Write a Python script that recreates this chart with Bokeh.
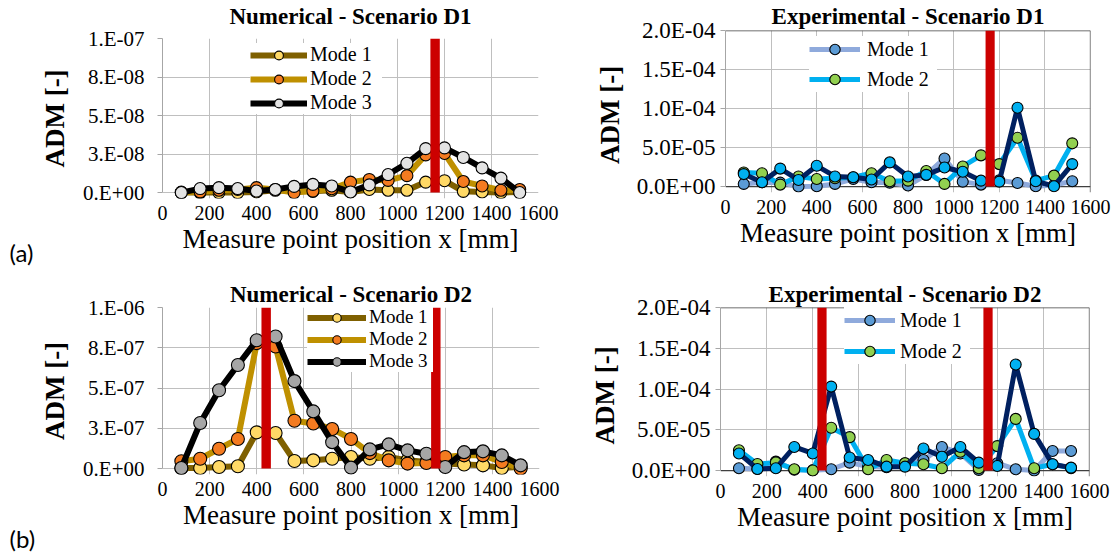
from bokeh.plotting import figure
from bokeh.models import (Range1d, FixedTicker, CustomJSTickFormatter, Legend,
                          LegendItem, Label, Span, LinearAxis)
from bokeh.layouts import column, row
from bokeh.embed import file_html
from bokeh.resources import INLINE

# ---------------------------------------------------------------- data
x_pos = [80, 160, 240, 320, 400, 480, 560, 640, 720, 800,
         880, 960, 1040, 1120, 1200, 1280, 1360, 1440, 1520]
x_ticks = [0, 200, 400, 600, 800, 1000, 1200, 1400, 1600]

# Numerical ADM, scenario D1
num_d1_mode1 = [0.0, 0.0, 0.0, 0.0, 0.4e-9, 1.5e-9, 1.0e-9, 0.8e-9, 1.5e-9, 0.4e-9,
                2.0e-9, 1.5e-9, 1.5e-9, 6.8e-9, 7.7e-9, 0.8e-9, 0.4e-9, 0.0, 0.4e-9]
num_d1_mode2 = [0.3e-9, 0.5e-9, 1.5e-9, 2.0e-9, 3.2e-9, 2.0e-9, 0.0, 1.0e-9, 2.5e-9, 6.8e-9,
                8.5e-9, 7.9e-9, 11.0e-9, 24.5e-9, 25.4e-9, 7.2e-9, 4.3e-9, 1.5e-9, 2.0e-9]
num_d1_mode3 = [0.0, 2.6e-9, 3.2e-9, 2.6e-9, 1.0e-9, 2.0e-9, 4.0e-9, 5.3e-9, 4.3e-9, 0.4e-9,
                5.0e-9, 11.7e-9, 19.0e-9, 28.5e-9, 29.0e-9, 22.8e-9, 16.0e-9, 9.4e-9, 0.0]

# Numerical ADM, scenario D2
num_d2_mode1 = [0.4e-8, 0.4e-8, 1.0e-8, 1.4e-8, 22.5e-8, 22.1e-8, 4.7e-8, 5.1e-8, 6.1e-8, 7.2e-8,
                6.1e-8, 7.2e-8, 5.1e-8, 4.1e-8, 3.1e-8, 2.5e-8, 2.0e-8, 0.4e-8, 1.0e-8]
num_d2_mode2 = [4.5e-8, 6.1e-8, 12.3e-8, 18.4e-8, 77.9e-8, 75.8e-8, 29.7e-8, 28.0e-8, 24.6e-8, 18.4e-8,
                9.6e-8, 5.1e-8, 3.1e-8, 3.5e-8, 7.2e-8, 8.2e-8, 8.2e-8, 4.1e-8, 0.0]
num_d2_mode3 = [0.4e-8, 28.3e-8, 48.6e-8, 64.3e-8, 79.7e-8, 82.0e-8, 54.3e-8, 35.5e-8, 16.4e-8, 0.6e-8,
                11.9e-8, 15.0e-8, 11.3e-8, 9.2e-8, 1.0e-8, 10.2e-8, 10.7e-8, 8.2e-8, 2.0e-8]

# Experimental ADM, scenario D1
exp_d1_mode1 = [3.4e-6, 5.5e-6, 5.0e-6, 0.0, 0.4e-6, 3.4e-6, 9.7e-6, 5.5e-6, 5.0e-6, 1.3e-6,
                15.0e-6, 36.0e-6, 6.3e-6, 2.5e-6, 8.0e-6, 4.6e-6, 0.4e-6, 2.0e-6, 6.8e-6]
exp_d1_mode2 = [18.0e-6, 17.0e-6, 2.5e-6, 13.0e-6, 9.7e-6, 10.6e-6, 12.0e-6, 17.0e-6, 6.8e-6, 7.6e-6,
                20.0e-6, 3.4e-6, 25.8e-6, 40.0e-6, 28.8e-6, 62.6e-6, 7.6e-6, 14.0e-6, 55.4e-6]
exp_d1_mode3 = [16.0e-6, 5.5e-6, 23.0e-6, 8.5e-6, 26.6e-6, 13.0e-6, 12.0e-6, 9.0e-6, 31.0e-6, 13.0e-6,
                15.0e-6, 24.5e-6, 19.0e-6, 7.6e-6, 6.3e-6, 101.0e-6, 6.8e-6, 0.5e-6, 28.8e-6]

# Experimental ADM, scenario D2
exp_d2_mode1 = [2.8e-6, 2.0e-6, 11.0e-6, 1.0e-6, 0.5e-6, 1.6e-6, 9.7e-6, 5.0e-6, 4.0e-6, 9.0e-6,
                13.0e-6, 29.0e-6, 21.0e-6, 0.8e-6, 9.0e-6, 1.6e-6, 0.0, 24.0e-6, 24.0e-6]
exp_d2_mode2 = [25.0e-6, 8.0e-6, 10.0e-6, 1.6e-6, 0.0, 52.5e-6, 41.0e-6, 1.6e-6, 13.0e-6, 9.0e-6,
                7.7e-6, 2.8e-6, 23.0e-6, 2.8e-6, 30.0e-6, 63.4e-6, 2.8e-6, 7.7e-6, 3.0e-6]
exp_d2_mode3 = [21.0e-6, 2.0e-6, 2.8e-6, 29.0e-6, 21.0e-6, 103.0e-6, 16.0e-6, 13.0e-6, 4.8e-6, 4.8e-6,
                27.0e-6, 17.0e-6, 29.0e-6, 9.7e-6, 5.6e-6, 130.0e-6, 45.0e-6, 7.7e-6, 3.6e-6]

# Damage locations [mm]
damage_d1 = [1160]
damage_d2 = [440, 1160]

# Y axes
num_d1_yticks = [0.0, 2.5e-8, 5.0e-8, 7.5e-8, 1.0e-7]
num_d1_ylabels = ["0.E+00", "3.E-08", "5.E-08", "8.E-08", "1.E-07"]
num_d2_yticks = [0.0, 2.5e-7, 5.0e-7, 7.5e-7, 1.0e-6]
num_d2_ylabels = ["0.E+00", "3.E-07", "5.E-07", "8.E-07", "1.E-06"]
exp_yticks = [0.0, 5.0e-5, 1.0e-4, 1.5e-4, 2.0e-4]
exp_ylabels = ["0.0E+00", "5.0E-05", "1.0E-04", "1.5E-04", "2.0E-04"]

# ---------------------------------------------------------------- style
SERIF = "Liberation Serif"
RED = "#CC0000"
GRID = "#BFBFBF"
AXIS = "#A6A6A6"
DARK = "#404040"
TITLE_SIZE = "23px"

NUM_STYLE = [("Mode 1", "#7F6000", "#FFD966"),
             ("Mode 2", "#BF9000", "#F47B20"),
             ("Mode 3", "#000000", None)]
EXP_STYLE = [("Mode 1", "#8FAADC", "#5B9BD5"),
             ("Mode 2", "#00B0F0", "#92D050"),
             (None, "#002060", "#00B0F0")]

LEFT_STRIP = 37     # column holding the (a)/(b) tags


def tag_strip(width, height, texts):
    """A blank figure whose frame is the whole canvas, holding the panel tags."""
    s = figure(width=width, height=height, output_backend="svg", toolbar_location=None,
               x_range=Range1d(0, width), y_range=Range1d(0, height),
               x_axis_type=None, y_axis_type=None, min_border=0, frame_align=False,
               outline_line_color=None, background_fill_color="white",
               border_fill_color="white")
    s.xgrid.visible = False
    s.ygrid.visible = False
    for t in texts:
        s.add_layout(Label(x=t["x"], y=height - t["y"], text=t["text"],
                           text_font="Lato", text_font_size="24px",
                           text_baseline="middle", text_align="left", text_color="black"))
    return s


def build(title, ylabel, ys, styles, m3_fill, damage, ymax, ytv, ytl, lay, leg,
          boxed, lw, msize):
    W, H = lay["W"], lay["H"]
    fl, fr, ft, fz, pad = lay["fl"], lay["fr"], lay["ft"], lay["fz"], lay["pad"]
    fb = fz + pad
    per_px = ymax / (fz - ft)
    p = figure(width=W, height=H, output_backend="svg", toolbar_location=None,
               x_range=Range1d(0, 1600), y_range=Range1d(-pad * per_px, ymax),
               min_border_left=fl, min_border_right=W - fr, min_border_top=ft,
               min_border_bottom=H - fb, frame_align=False,
               background_fill_color="white", border_fill_color="white",
               outline_line_color=None)

    xa = p.below[0]
    xa.ticker = FixedTicker(ticks=x_ticks, minor_ticks=[])
    xa.axis_label = "Measure point position x [mm]"
    xa.axis_label_text_font = SERIF
    xa.axis_label_text_font_size = "27px"
    xa.axis_label_text_font_style = "normal"
    xa.axis_label_text_color = "black"
    xa.axis_label_standoff = lay["xls"]
    xa.major_label_text_font = SERIF
    xa.major_label_text_font_size = "20px"
    xa.major_label_text_color = "black"
    xa.major_label_standoff = lay["xms"]
    xa.axis_line_color = None
    xa.major_tick_line_color = None
    xa.major_tick_in = 0
    xa.major_tick_out = 0
    xa.minor_tick_line_color = None

    ya = p.left[0]
    ya.ticker = FixedTicker(ticks=ytv, minor_ticks=[])
    ya.formatter = CustomJSTickFormatter(args=dict(tv=ytv, tl=ytl), code="""
        let best = 0;
        for (let i = 0; i < tv.length; i++) {
            if (Math.abs(tv[i] - tick) < Math.abs(tv[best] - tick)) best = i;
        }
        return tl[best];
    """)
    ya.bounds = (0, ymax)
    ya.axis_label = ylabel
    ya.axis_label_text_font = SERIF
    ya.axis_label_text_font_size = "27px"
    ya.axis_label_text_font_style = "bold"
    ya.axis_label_text_color = "black"
    ya.axis_label_standoff = lay["yls"]
    ya.major_label_text_font = SERIF
    ya.major_label_text_font_size = lay["ytf"]
    ya.major_label_text_color = "black"
    ya.major_label_standoff = lay["yms"]
    ya.axis_line_color = AXIS
    ya.major_tick_line_color = AXIS
    ya.major_tick_in = 0
    ya.major_tick_out = 5
    ya.minor_tick_line_color = None

    # panel title: label of a bare axis along the top, centred on its bounds
    tx_mm = (lay["tcx"] - fl) / (fr - fl) * 1600
    head = LinearAxis(axis_label=title, axis_label_text_font=SERIF,
                      axis_label_text_font_size=TITLE_SIZE,
                      axis_label_text_font_style="bold",
                      axis_label_text_color="black", axis_label_standoff=lay["tls"],
                      axis_line_color=None, major_tick_line_color=None,
                      minor_tick_line_color=None, major_tick_in=0, major_tick_out=0,
                      minor_tick_in=0, minor_tick_out=0, major_label_standoff=0,
                      ticker=FixedTicker(ticks=[], minor_ticks=[]),
                      bounds=(0, 2 * tx_mm))
    p.add_layout(head, "above")

    # vertical grid lines run a few pixels below zero, acting as tick marks
    p.xgrid.ticker = FixedTicker(ticks=x_ticks)
    p.xgrid.grid_line_color = GRID
    p.ygrid.ticker = FixedTicker(ticks=ytv)
    p.ygrid.grid_line_color = GRID

    if boxed:
        for loc, dim in ((0, "width"), (ymax, "width"), (1600, "height")):
            p.add_layout(Span(location=loc, dimension=dim, line_color=DARK,
                              line_width=1.3, level="underlay"))

    items = []
    for y, (label, lc, fc) in zip(ys, styles):
        fill = fc if fc is not None else m3_fill
        lr = p.line(x_pos, y, line_color=lc, line_width=lw, line_join="round")
        sr = p.scatter(x_pos, y, size=msize, fill_color=fill, line_color="black",
                       line_width=1.1)
        if label:
            items.append(LegendItem(label=label, renderers=[lr, sr]))

    p.vbar(x=damage, top=ymax, bottom=0, width=40, fill_color=RED, line_color=None)

    n = len(items)
    gh, sp, pd = leg["gh"], leg["sp"], leg["pd"]
    box_h = 2 * pd + n * gh + (n - 1) * sp
    box_top = leg["cy"] - gh / 2 - pd
    box_left = leg["gx"] - pd
    legend = Legend(items=items,
                    location=(int(round(box_left - fl)), int(round(fb - (box_top + box_h)))),
                    orientation="vertical", glyph_width=leg["gw"], glyph_height=gh,
                    label_height=gh, label_width=leg["lw"], label_standoff=leg["so"],
                    spacing=sp, padding=pd, margin=0, border_line_color=None,
                    background_fill_color="white", background_fill_alpha=1.0,
                    label_text_font=SERIF, label_text_font_size=leg["fs"],
                    label_text_color="black")
    p.add_layout(legend)
    return p


# frame geometry per panel, in each figure's own pixels
lay_a = dict(W=560 - LEFT_STRIP, H=278, fl=147 - LEFT_STRIP, fr=538 - LEFT_STRIP,
             ft=36, fz=192, pad=6, xls=1, xms=7, yls=10, yms=13, ytf="21px",
             tcx=315 - LEFT_STRIP, tls=10)
lay_b = dict(W=560, H=278, fl=165, fr=530, ft=28, fz=186, pad=6,
             xls=1, xms=7, yls=9, yms=5, ytf="23px", tcx=878 - 560, tls=2)
lay_c = dict(W=560 - LEFT_STRIP, H=278, fl=148 - LEFT_STRIP, fr=539 - LEFT_STRIP,
             ft=27, fz=190, pad=6, xls=1, xms=7, yls=10, yms=13, ytf="21px",
             tcx=327 - LEFT_STRIP, tls=1)
lay_d = dict(W=560, H=278, fl=160, fr=529, ft=27, fz=192, pad=6,
             xls=1, xms=7, yls=9, yms=5, ytf="23px", tcx=876 - 560, tls=1)

p_a = build("Numerical - Scenario D1", "ADM [-]",
            [num_d1_mode1, num_d1_mode2, num_d1_mode3], NUM_STYLE, "#E3E3E3",
            damage_d1, 1.0e-7, num_d1_yticks, num_d1_ylabels, lay_a,
            dict(gx=237 - LEFT_STRIP, cy=55, gh=22, sp=1, pd=2, gw=57, so=3,
                 lw=72, fs="20px"),
            False, 6, 12)
p_b = build("Experimental - Scenario D1", "ADM  [-]",
            [exp_d1_mode1, exp_d1_mode2, exp_d1_mode3], EXP_STYLE, None,
            damage_d1, 2.0e-4, exp_yticks, exp_ylabels, lay_b,
            dict(gx=252, cy=46, gh=26, sp=4, pd=3, gw=51, so=7, lw=70, fs="20px"),
            True, 5, 11)
p_c = build("Numerical - Scenario D2", "ADM [-]",
            [num_d2_mode1, num_d2_mode2, num_d2_mode3], NUM_STYLE, "#A6A6A6",
            damage_d2, 1.0e-6, num_d2_yticks, num_d2_ylabels, lay_c,
            dict(gx=294 - LEFT_STRIP, cy=40.5, gh=21, sp=0, pd=1, gw=59, so=3, lw=64,
                 fs="19px"),
            False, 6, 13)
p_d = build("Experimental - Scenario D2", "ADM  [-]",
            [exp_d2_mode1, exp_d2_mode2, exp_d2_mode3], EXP_STYLE, None,
            damage_d2, 2.0e-4, exp_yticks, exp_ylabels, lay_d,
            dict(gx=287, cy=39, gh=26, sp=5, pd=3, gw=51, so=5, lw=70, fs="20px"),
            True, 5, 11)

tags = tag_strip(LEFT_STRIP, 556, [
    dict(x=9, y=252, text="(a)"),
    dict(x=9, y=538, text="(b)"),
])

page = row(tags, column(row(p_a, p_b), row(p_c, p_d)))
open("out.html", "w").write(file_html(page, INLINE))
